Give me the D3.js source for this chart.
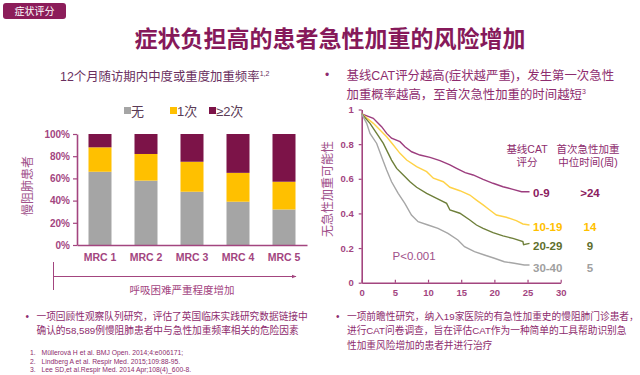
<!DOCTYPE html>
<html>
<head>
<meta charset="utf-8">
<script src="https://cdn.jsdelivr.net/npm/d3@7"></script>
<style>
  html, body { margin: 0; padding: 0; background: #ffffff; }
  svg { display: block; }
  text { font-family: "Liberation Sans", Arial, "Noto Sans CJK SC", sans-serif; }
</style>
</head>
<body>
<div id="chart"></div>
<script>
/* ----------------------------------------------------- Data ------------------------------------------------------------------------- */

const categories = ["MRC 1", "MRC 2", "MRC 3", "MRC 4", "MRC 5"];
const noneValues = [66, 58, 48, 39, 32];
const onceValues = [22, 24, 27, 26, 25];
const twoPlusValues = [12, 18, 25, 35, 43];
const barSeries = ["无", "1次", "≥2次"];
const barTicks = [0, 20, 40, 60, 80, 100];

const kmTicksY = [0, 0.2, 0.4, 0.6, 0.8, 1];
const kmTicksX = [0, 5, 10, 15, 20, 25, 30];
const kmGroups = ["0-9", "10-19", "20-29", "30-40"];
const kmMedians = [">24", "14", "9", "5"];

const cat0to9 = [[0, 0.975], [1.75, 0.949], [3.0, 0.901], [3.76, 0.862], [4.5, 0.834], [5.77, 0.814], [6.52, 0.785],
    [7.53, 0.756], [8.78, 0.737], [10.3, 0.724], [11.8, 0.705], [13.3, 0.68], [14.3, 0.66], [15.6, 0.635],
    [16.8, 0.622], [18.3, 0.597], [19.8, 0.574], [21.3, 0.554], [22.8, 0.539], [24.1, 0.525], [25.3, 0.525]];
const cat10to19 = [[0, 0.975], [1.75, 0.92], [2.76, 0.882], [3.76, 0.843], [4.77, 0.795], [5.77, 0.747], [6.78, 0.708],
    [8.28, 0.67], [9.79, 0.641], [10.8, 0.603], [12.3, 0.583], [13.3, 0.551], [14.8, 0.531], [16.3, 0.506],
    [17.3, 0.477], [18.3, 0.449], [19.3, 0.42], [20.3, 0.391], [21.8, 0.378], [23.3, 0.358], [24.3, 0.339], [25.3, 0.333]];
const cat20to29 = [[0, 0.975], [1.25, 0.92], [2.26, 0.862], [3.26, 0.804], [4.0, 0.747], [4.5, 0.708], [5.27, 0.66],
    [6.27, 0.622], [7.28, 0.583], [8.28, 0.551], [9.79, 0.516], [11.3, 0.487], [12.8, 0.458], [13.3, 0.42],
    [14.8, 0.401], [16.3, 0.362], [17.3, 0.333], [18.3, 0.314], [19.8, 0.289], [21.3, 0.27], [22.8, 0.256],
    [24.3, 0.237], [24.4, 0.22], [25.3, 0.227]];
const cat30to40 = [[0, 0.975], [0.75, 0.92], [1.25, 0.862], [2.26, 0.804], [3.0, 0.727], [3.76, 0.651], [4.5, 0.583],
    [5.5, 0.516], [6.5, 0.458], [7.5, 0.391], [8.5, 0.352], [10.0, 0.333], [11.5, 0.314], [13.0, 0.285],
    [14.5, 0.247], [15.5, 0.208], [17.0, 0.179], [18.5, 0.16], [20.0, 0.141], [21.5, 0.121], [23.0, 0.112],
    [24.5, 0.102], [25.3, 0.102]];

/* ----------------------------------------------------- Setup ------------------------------------------------------------------------ */

const purple = "#86195a";
const axisColor = "#a3457f";
const textPurple = "#8e2c6e";
const barColors = ["#a5a5a5", "#ffc000", "#7c1348"];
const kmColors = ["#9c3d7e", "#ffd246", "#6e7f3a", "#a6a6a6"];
const kmLabelColors = ["#8b2060", "#ffc000", "#5e6e2c", "#a0a0a0"];

const svg = d3.select("#chart").append("svg")
    .attr("width", 640)
    .attr("height", 375);

/* header tag */
svg.append("rect")
    .attr("x", 3).attr("y", 3)
    .attr("width", 63).attr("height", 16)
    .attr("rx", 3)
    .attr("fill", "#8c1d5a");
svg.append("text")
    .attr("x", 34.5).attr("y", 15)
    .attr("text-anchor", "middle")
    .attr("fill", "#ffffff")
    .style("font-size", "10px")
    .text("症状评分");

svg.append("text")
    .attr("x", 330).attr("y", 47)
    .attr("text-anchor", "middle")
    .attr("fill", purple)
    .style("font-size", "23px")
    .style("font-weight", "bold")
    .style("font-family", "'Noto Sans CJK SC', sans-serif")
    .text("症状负担高的患者急性加重的风险增加");

/* ----------------------------------------------------- Stacked bars ----------------------------------------------------------------- */

const subtitle = svg.append("text")
    .attr("x", 60).attr("y", 81)
    .attr("fill", "#6a2f60")
    .style("font-size", "12.4px");
subtitle.append("tspan").text("12个月随访期内中度或重度加重频率");
subtitle.append("tspan").attr("dy", -5).style("font-size", "7px").text("1,2");

const legendX = [124, 170, 209];
barSeries.forEach(function (name, i) {
    svg.append("rect")
        .attr("x", legendX[i]).attr("y", 107)
        .attr("width", 7).attr("height", 7)
        .attr("fill", barColors[i]);
    svg.append("text")
        .attr("x", legendX[i] + 7).attr("y", 116)
        .attr("fill", "#5a3a55")
        .style("font-size", "13px")
        .text(name);
});

const xBand = d3.scaleBand()
    .domain(categories)
    .range([77, 307])
    .paddingInner(0.5)
    .paddingOuter(0.25);

const yPct = d3.scaleLinear()
    .domain([0, 100])
    .range([245, 134]);

const barRows = categories.map((c, i) => ({ cat: c, "无": noneValues[i], "1次": onceValues[i], "≥2次": twoPlusValues[i] }));
const stacked = d3.stack().keys(barSeries)(barRows);

svg.append("g").selectAll("g")
    .data(stacked)
    .enter().append("g")
    .attr("fill", (d, i) => barColors[i])
    .selectAll("rect")
    .data(d => d)
    .enter().append("rect")
    .attr("x", d => xBand(d.data.cat))
    .attr("y", d => yPct(d[1]))
    .attr("width", xBand.bandwidth())
    .attr("height", d => yPct(d[0]) - yPct(d[1]));

const barYAxis = svg.append("g")
    .attr("transform", "translate(77,0)")
    .call(d3.axisLeft(yPct).tickValues(barTicks).tickFormat(d => d + "%").tickSize(4).tickSizeOuter(0));
const barXAxis = svg.append("g")
    .attr("transform", "translate(0,245)")
    .call(d3.axisBottom(xBand).tickSize(0).tickPadding(9));

[barYAxis, barXAxis].forEach(function (ax) {
    ax.select(".domain").attr("stroke", axisColor).attr("stroke-width", 1.6);
    ax.selectAll(".tick line").attr("stroke", axisColor).attr("stroke-width", 1.2);
    ax.selectAll("text")
        .attr("fill", axisColor)
        .style("font-size", "10px")
        .style("font-weight", "bold")
        .style("font-family", "'Liberation Sans', Arial, sans-serif");
});
barXAxis.selectAll("text").style("font-size", "10.5px");

svg.append("text")
    .attr("transform", "translate(32,186) rotate(-90)")
    .attr("text-anchor", "middle")
    .attr("fill", "#a0508a")
    .style("font-size", "12px")
    .text("慢阻肺患者");

/* severity arrow */
svg.append("defs").append("marker")
    .attr("id", "arrow")
    .attr("viewBox", "0 0 10 10")
    .attr("refX", 9).attr("refY", 5)
    .attr("markerWidth", 5).attr("markerHeight", 5)
    .attr("orient", "auto")
    .append("path")
    .attr("d", "M0,1 L10,5 L0,9 Z")
    .attr("fill", axisColor);
svg.append("line")
    .attr("x1", 53.5).attr("x2", 53.5).attr("y1", 262).attr("y2", 290)
    .attr("stroke", axisColor).attr("stroke-width", 1);
svg.append("line")
    .attr("x1", 53.5).attr("x2", 296).attr("y1", 276.5).attr("y2", 276.5)
    .attr("stroke", axisColor).attr("stroke-width", 1)
    .attr("marker-end", "url(#arrow)");
svg.append("text")
    .attr("x", 182).attr("y", 294)
    .attr("text-anchor", "middle")
    .attr("fill", axisColor)
    .style("font-size", "10.5px")
    .text("呼吸困难严重程度增加");

/* ----------------------------------------------------- Kaplan-Meier curves ---------------------------------------------------------- */

svg.append("text")
    .attr("x", 325).attr("y", 79)
    .attr("fill", textPurple)
    .style("font-size", "12px")
    .text("•");
svg.append("text")
    .attr("x", 346.5).attr("y", 80)
    .attr("fill", textPurple)
    .style("font-size", "12.4px")
    .text("基线CAT评分越高(症状越严重)，发生第一次急性");
const rightHead = svg.append("text")
    .attr("x", 346.5).attr("y", 99)
    .attr("fill", textPurple)
    .style("font-size", "12.4px");
rightHead.append("tspan").text("加重概率越高，至首次急性加重的时间越短");
rightHead.append("tspan").attr("dy", -5).style("font-size", "7px").text("3");

const xWeek = d3.scaleLinear().domain([0, 30]).range([361.7, 560.7]);
const yProb = d3.scaleLinear().domain([0, 1]).range([282.7, 109.5]);

const kmYAxis = svg.append("g")
    .attr("transform", "translate(361.7,0)")
    .call(d3.axisLeft(yProb).tickValues(kmTicksY)
        .tickFormat(d => (d === 0 || d === 1) ? String(d) : d.toFixed(1))
        .tickSize(3).tickSizeOuter(0).tickPadding(5));
const kmXAxis = svg.append("g")
    .attr("transform", "translate(0,282.7)")
    .call(d3.axisBottom(xWeek).tickValues(kmTicksX).tickSize(-3).tickSizeOuter(0).tickPadding(7));

[kmYAxis, kmXAxis].forEach(function (ax) {
    ax.select(".domain").attr("stroke", axisColor).attr("stroke-width", 1.6);
    ax.selectAll(".tick line").attr("stroke", axisColor).attr("stroke-width", 1.2);
    ax.selectAll("text")
        .attr("fill", axisColor)
        .style("font-size", "9.5px")
        .style("font-weight", "bold")
        .style("font-family", "'Liberation Sans', Arial, sans-serif");
});

svg.append("text")
    .attr("transform", "translate(332,189) rotate(-90)")
    .attr("text-anchor", "middle")
    .attr("fill", "#a0508a")
    .style("font-size", "12px")
    .text("无急性加重可能性");

const line = d3.line()
    .x(d => xWeek(d[0]))
    .y(d => yProb(d[1]));

const kmCurves = [cat0to9, cat10to19, cat20to29, cat30to40];
svg.append("g").selectAll("path")
    .data(kmCurves)
    .enter().append("path")
    .attr("d", line)
    .attr("fill", "none")
    .attr("stroke", (d, i) => kmColors[i])
    .attr("stroke-width", 1.4);

const labelY = [197, 230.5, 250, 271.5];
kmGroups.forEach(function (g, i) {
    svg.append("text")
        .attr("x", 533).attr("y", labelY[i])
        .attr("fill", kmLabelColors[i])
        .style("font-size", "11.5px")
        .style("font-weight", "bold")
        .text(g);
    svg.append("text")
        .attr("x", 590).attr("y", labelY[i])
        .attr("text-anchor", "middle")
        .attr("fill", kmLabelColors[i])
        .style("font-size", "11.5px")
        .style("font-weight", "bold")
        .text(kmMedians[i]);
});

const headCols = [[527, ["基线CAT", "评分"]], [588, ["首次急性加重", "中位时间(周)"]]];
headCols.forEach(function (col) {
    col[1].forEach(function (t, j) {
        svg.append("text")
            .attr("x", col[0]).attr("y", 153 + j * 12.5)
            .attr("text-anchor", "middle")
            .attr("fill", textPurple)
            .style("font-size", "10.5px")
            .text(t);
    });
});

svg.append("text")
    .attr("x", 392.5).attr("y", 260)
    .attr("fill", "#a0508a")
    .style("font-size", "11.5px")
    .text("P<0.001");

/* ----------------------------------------------------- Footnotes -------------------------------------------------------------------- */

function bullet(x, y, lines) {
    svg.append("text")
        .attr("x", x - 11).attr("y", y)
        .attr("fill", textPurple)
        .style("font-size", "10px")
        .text("•");
    lines.forEach(function (t, j) {
        svg.append("text")
            .attr("x", x).attr("y", y + j * 14.3)
            .attr("fill", textPurple)
            .style("font-size", "9.7px")
            .text(t);
    });
}

bullet(36.5, 320, ["一项回顾性观察队列研究，评估了英国临床实践研究数据链接中",
    "确认的58,589例慢阻肺患者中与急性加重频率相关的危险因素"]);
bullet(347, 320, ["一项前瞻性研究，纳入19家医院的有急性加重史的慢阻肺门诊患者，",
    "进行CAT问卷调查，旨在评估CAT作为一种简单的工具帮助识别急",
    "性加重风险增加的患者并进行治疗"]);

const refs = ["Müllerová H et al. BMJ Open. 2014;4:e006171;",
    "Lindberg A et al. Respir Med. 2015;109:88-95.",
    "Lee SD,et al.Respir Med. 2014 Apr;108(4)_600-8."];
refs.forEach(function (r, i) {
    svg.append("text")
        .attr("x", 30).attr("y", 355 + i * 8.5)
        .attr("fill", textPurple)
        .style("font-size", "6.8px")
        .text((i + 1) + ".");
    svg.append("text")
        .attr("x", 41.5).attr("y", 355 + i * 8.5)
        .attr("fill", textPurple)
        .style("font-size", "6.8px")
        .text(r);
});
</script>
</body>
</html>
